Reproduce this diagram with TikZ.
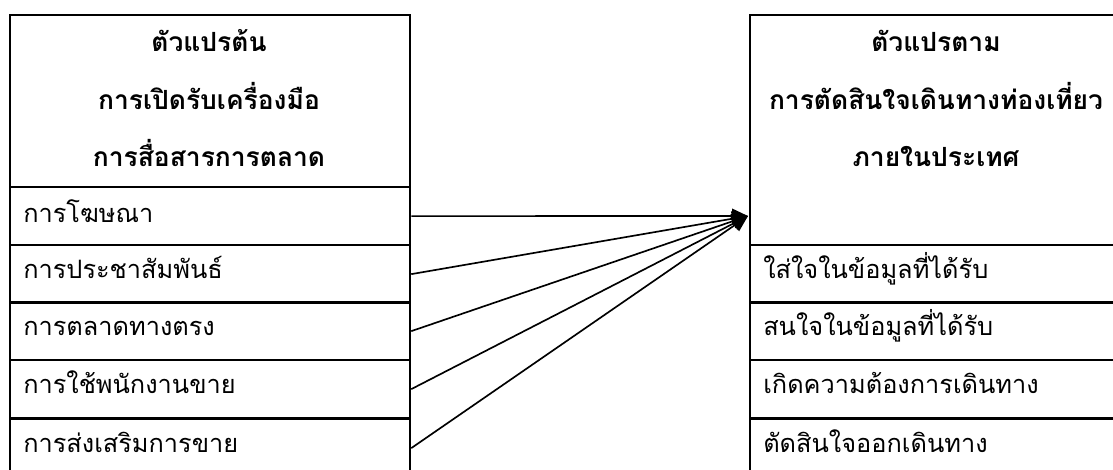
\documentclass[tikz,border=0pt]{standalone}
\usepackage{fontspec}
\newfontfamily\thaifont[Script=Thai]{Loma}
\usetikzlibrary{arrows.meta}
\begin{document}
\begin{tikzpicture}[x=0.75pt,y=-0.75pt,
  cellbox/.style={draw, line width=1.7pt, anchor=north west, inner sep=0pt, minimum width=#1},
  rowtext/.style={anchor=base west, inner sep=0pt, font=\thaifont\fontsize{19pt}{22pt}\selectfont},
  headtext/.style={anchor=base, inner sep=0pt, font=\thaifont\bfseries\fontsize{19.8pt}{22pt}\selectfont},
  link/.style={line width=1.25pt, -{Triangle[length=12pt,width=11pt]}}]
\useasboundingbox (0,0) rectangle (1113,470);
\clip (0,0) rectangle (1113,470);
% left column
\node[cellbox=300pt, minimum height=129pt] (lh) at (9,14) {};
\node[cellbox=300pt, minimum height=43.5pt] (l1) at (9,186) {};
\node[cellbox=300pt, minimum height=43.5pt] (l2) at (9,244) {};
\node[cellbox=300pt, minimum height=43.5pt] (l3) at (9,301) {};
\node[cellbox=300pt, minimum height=43.5pt] (l4) at (9,359) {};
\node[cellbox=300pt, minimum height=43.5pt] (l5) at (9,418) {};
\node[headtext] (lht1) at (209,52) {ตัวแปรต้น};
\node[headtext] (lht2) at (209,110) {การเปิดรับเครื่องมือ};
\node[headtext] (lht3) at (209,167) {การสื่อสารการตลาด};
\node[rowtext] (l1t) at (23,223) {การโฆษณา};
\node[rowtext] (l2t) at (23,278) {การประชาสัมพันธ์};
\node[rowtext] (l3t) at (23,335) {การตลาดทางตรง};
\node[rowtext] (l4t) at (23,393) {การใช้พนักงานขาย};
\node[rowtext] (l5t) at (23,452) {การส่งเสริมการขาย};
% right column
\node[cellbox=280.5pt, minimum height=172.5pt] (rh) at (749,14) {};
\node[cellbox=280.5pt, minimum height=43.5pt] (r1) at (749,244) {};
\node[cellbox=280.5pt, minimum height=43.5pt] (r2) at (749,301) {};
\node[cellbox=280.5pt, minimum height=43.5pt] (r3) at (749,359) {};
\node[cellbox=280.5pt, minimum height=43.5pt] (r4) at (749,418) {};
\node[headtext] (rht1) at (936,52) {ตัวแปรตาม};
\node[headtext] (rht2) at (936,110) {การตัดสินใจเดินทางท่องเที่ยว};
\node[headtext] (rht3) at (936,167) {ภายในประเทศ};
\node[rowtext] (r1t) at (763,278) {ใส่ใจในข้อมูลที่ได้รับ};
\node[rowtext] (r2t) at (763,335) {สนใจในข้อมูลที่ได้รับ};
\node[rowtext] (r3t) at (763,393) {เกิดความต้องการเดินทาง};
\node[rowtext] (r4t) at (763,452) {ตัดสินใจออกเดินทาง};
% connectors
\coordinate (tip) at (748,216);
\draw[link] (l1.east) -- (tip);
\draw[link] (l2.east) -- (tip);
\draw[link] (l3.east) -- (tip);
\draw[link] (l4.east) -- (tip);
\draw[link] (l5.east) -- (tip);
\end{tikzpicture}
\end{document}
